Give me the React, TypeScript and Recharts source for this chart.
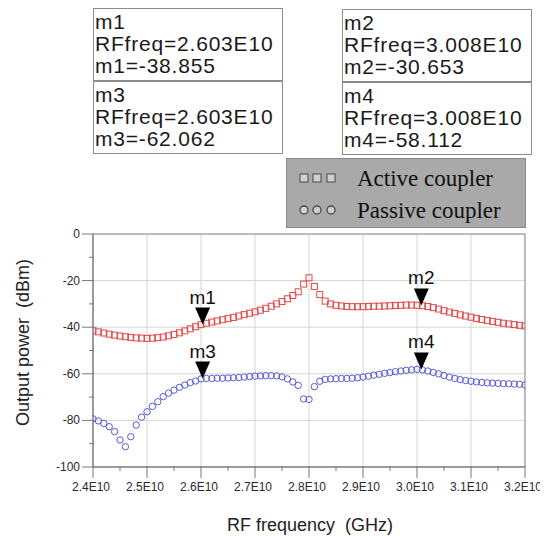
import React from "react"
import {
  ScatterChart,
  Scatter,
  XAxis,
  YAxis,
  CartesianGrid,
  ReferenceArea,
  ReferenceDot,
  Legend,
} from "recharts"

// RF frequency in units of 1E10 Hz
const freq = [
  2.4, 2.41, 2.42, 2.43, 2.44, 2.45, 2.46, 2.47, 2.48, 2.49,
  2.5, 2.51, 2.52, 2.53, 2.54, 2.55, 2.56, 2.57, 2.58, 2.59,
  2.6, 2.61, 2.62, 2.63, 2.64, 2.65, 2.66, 2.67, 2.68, 2.69,
  2.7, 2.71, 2.72, 2.73, 2.74, 2.75, 2.76, 2.77, 2.78, 2.79,
  2.8, 2.81, 2.82, 2.83, 2.84, 2.85, 2.86, 2.87, 2.88, 2.89,
  2.9, 2.91, 2.92, 2.93, 2.94, 2.95, 2.96, 2.97, 2.98, 2.99,
  3.0, 3.01, 3.02, 3.03, 3.04, 3.05, 3.06, 3.07, 3.08, 3.09,
  3.1, 3.11, 3.12, 3.13, 3.14, 3.15, 3.16, 3.17, 3.18, 3.19,
  3.2,
]

// output power, dBm
const activeCoupler = [
  -41.5, -42.0, -42.5, -43.0, -43.4, -43.8, -44.1, -44.4, -44.6, -44.7,
  -44.8, -44.7, -44.5, -44.2, -43.7, -43.1, -42.4, -41.6, -40.7, -39.8,
  -38.9, -38.3, -37.8, -37.3, -36.8, -36.3, -35.8, -35.2, -34.6, -34.0,
  -33.4, -32.7, -31.9, -31.0, -30.0, -29.0, -27.8, -26.4, -24.8, -21.5,
  -18.8, -22.5, -26.0, -28.8, -30.0, -30.6, -30.9, -31.1, -31.2, -31.2,
  -31.2, -31.1, -31.0, -31.0, -30.9, -30.8, -30.7, -30.6, -30.5, -30.5,
  -30.6, -30.8, -31.1, -31.6, -32.2, -32.9, -33.5, -34.1, -34.7, -35.2,
  -35.7, -36.2, -36.7, -37.1, -37.5, -37.9, -38.3, -38.6, -38.9, -39.2,
  -39.5,
]

const passiveCoupler = [
  -79.3, -80.2, -81.3, -82.7, -84.8, -88.4, -91.3, -87.0, -82.0, -78.6,
  -76.3, -74.0, -72.0, -69.8, -68.3, -67.0, -65.8, -64.8, -63.8, -63.1,
  -62.2, -62.0, -62.0, -61.9, -61.9, -61.8, -61.7, -61.6, -61.4, -61.2,
  -61.0, -60.9, -60.8, -60.8, -60.9, -61.3, -62.2, -63.5, -65.0, -70.8,
  -71.0, -65.5, -63.2, -62.4, -62.2, -62.1, -62.0, -62.0, -61.9, -61.7,
  -61.4, -61.0, -60.6, -60.2, -59.8, -59.5, -59.1, -58.8, -58.5, -58.3,
  -58.1, -58.3, -58.8, -59.4, -60.0, -60.7, -61.4, -62.0, -62.5, -62.9,
  -63.2, -63.5, -63.7, -63.9, -64.0, -64.1, -64.2, -64.3, -64.4, -64.5,
  -64.8,
]

const markerNames = ["m1", "m2", "m3", "m4"]
const markerFreq = [2.603, 3.008, 2.603, 3.008]
const markerValue = [-38.855, -30.653, -62.062, -58.112]

const xTicks = [
  2.4, 2.45, 2.5, 2.55, 2.6, 2.65, 2.7, 2.75, 2.8, 2.85, 2.9, 2.95, 3.0, 3.05, 3.1, 3.15, 3.2,
]
const xGrid = [2.5, 2.6, 2.7, 2.8, 2.9, 3.0, 3.1]
const yTicks = [-100, -90, -80, -70, -60, -50, -40, -30, -20, -10, 0]
const yGrid = [-20, -40, -60, -80]

const activeData = freq.map((f, i) => ({ f, p: activeCoupler[i] }))
const passiveData = freq.map((f, i) => ({ f, p: passiveCoupler[i] }))

const SANS = "'Liberation Sans', Arial, sans-serif"
const SERIF = "'Liberation Serif', 'Times New Roman', serif"
const RED = "#e24848"
const BLUE = "#5a5ad8"
const AXIS = "#7a7a7a"
const MAJOR = 11
const MINOR = 4
const MARGIN = 2

function YTick(props: any) {
  const { x, y, payload } = props
  const axisX = x + MAJOR + MARGIN
  const major = payload.value % 20 === 0
  return (
    <g>
      <line x1={axisX - (major ? MAJOR : MINOR)} x2={axisX + 1} y1={y} y2={y} stroke={AXIS} />
      {major && (
        <text x={x} y={y} dy={4} textAnchor="end" fontSize={12} fontFamily={SANS} fill="#2a2a2a">
          {payload.value}
        </text>
      )}
    </g>
  )
}

function XTick(props: any) {
  const { x, y, payload } = props
  const axisY = y - MAJOR - MARGIN
  const major = Math.round(payload.value * 100) % 10 === 0
  return (
    <g>
      <line x1={x} x2={x} y1={axisY - 1} y2={axisY + (major ? MAJOR : MINOR)} stroke={AXIS} />
      {major && (
        <text x={x} y={y} dy={11} dx={-2} textAnchor="middle" fontSize={12} fontFamily={SANS} fill="#2a2a2a">
          {payload.value.toFixed(1) + "E10"}
        </text>
      )}
    </g>
  )
}

function MarkerShape(props: any, name: string) {
  const { cx, cy } = props
  return (
    <g>
      <polygon points={`${cx - 7.5},${cy - 17} ${cx + 7.5},${cy - 17} ${cx},${cy}`} fill="#000" />
      <text x={cx} y={cy - 21} textAnchor="middle" fontSize={19} fontFamily={SANS} fill="#111">
        {name}
      </text>
    </g>
  )
}

function LegendBox(props: any) {
  const { payload } = props
  return (
    <svg width={240} height={70} style={{ display: "block" }}>
      <rect x={0.5} y={0.5} width={239} height={69} fill="#a9a9a9" stroke="#8a8a8a" />
      {(payload || []).map((entry: any, i: number) => {
        const cy = i === 0 ? 20 : 52
        const symbols = [18, 31, 45].map((sx) =>
          entry.type === "square" ? (
            <rect key={sx} x={sx - 4} y={cy - 4} width={8} height={8} fill="#cfcfcf" stroke="#4a4a4a" />
          ) : (
            <circle key={sx} cx={sx} cy={cy} r={4} fill="#cfcfcf" stroke="#4a4a4a" strokeWidth={1.3} />
          )
        )
        return (
          <g key={entry.value}>
            {symbols}
            <text x={71} y={cy + 8} fontSize={23} fontFamily={SERIF} fill="#111">
              {entry.value}
            </text>
          </g>
        )
      })}
    </svg>
  )
}

const boxPos = [
  { left: 85, top: 0 },
  { left: 334, top: 1 },
  { left: 85, top: 73 },
  { left: 334, top: 74 },
]

export default function App() {
  return (
    <div style={{ position: "relative", width: 540, height: 528, fontFamily: SANS }}>
      <ScatterChart width={540} height={528} margin={{ top: 226, right: 23, bottom: 0, left: 0 }}>
        <CartesianGrid stroke="#d6d6d6" verticalValues={xGrid} horizontalValues={yGrid} />
        <XAxis
          type="number"
          dataKey="f"
          domain={[2.4, 3.2]}
          ticks={xTicks}
          interval={0}
          height={69}
          stroke={AXIS}
          tickLine={false}
          tickSize={MAJOR}
          tickMargin={MARGIN}
          tick={<XTick />}
          allowDataOverflow
          label={(p: any) => {
            const vb = p.viewBox
            return (
              <text
                x={vb.x + vb.width / 2 + 1}
                y={vb.y + 64}
                textAnchor="middle"
                fontSize={18}
                fontFamily={SANS}
                fill="#222"
                style={{ whiteSpace: "pre" }}
              >
                {"RF frequency  (GHz)"}
              </text>
            )
          }}
        />
        <YAxis
          type="number"
          dataKey="p"
          domain={[-100, 0]}
          ticks={yTicks}
          interval={0}
          width={85}
          stroke={AXIS}
          tickLine={false}
          tickSize={MAJOR}
          tickMargin={MARGIN}
          tick={<YTick />}
          allowDataOverflow
          label={(p: any) => {
            const vb = p.viewBox
            const x = vb.x + 15
            const y = vb.y + vb.height / 2 - 8
            return (
              <text
                x={x}
                y={y}
                transform={`rotate(-90 ${x} ${y})`}
                textAnchor="middle"
                dominantBaseline="central"
                fontSize={18}
                fontFamily={SANS}
                fill="#222"
                style={{ whiteSpace: "pre" }}
              >
                {"Output power  (dBm)"}
              </text>
            )
          }}
        />
        <ReferenceArea x1={2.4} x2={3.2} y1={-100} y2={0} fill="none" stroke={AXIS} />
        <Legend
          layout="horizontal"
          verticalAlign="middle"
          align="center"
          wrapperStyle={{ left: 278, top: 150, width: 240, height: 70 }}
          content={<LegendBox />}
        />
        <Scatter
          name="Active coupler"
          data={activeData}
          legendType="square"
          isAnimationActive={false}
          shape={(p: any) => (
            <rect x={p.cx - 3} y={p.cy - 3} width={6} height={6} fill="none" stroke={RED} strokeWidth={1} />
          )}
        />
        <Scatter
          name="Passive coupler"
          data={passiveData}
          legendType="circle"
          isAnimationActive={false}
          shape={(p: any) => <circle cx={p.cx} cy={p.cy} r={3.2} fill="none" stroke={BLUE} strokeWidth={1} />}
        />
        {markerNames.map((name, i) => (
          <ReferenceDot
            key={name}
            x={markerFreq[i]}
            y={markerValue[i]}
            r={0}
            shape={(p: any) => MarkerShape(p, name)}
          />
        ))}
      </ScatterChart>
      {markerNames.map((name, i) => (
        <div
          key={name}
          style={{
            position: "absolute",
            left: boxPos[i].left,
            top: boxPos[i].top,
            width: 187,
            height: 69,
            border: "1px solid #8c8c8c",
            background: "#fff",
            fontSize: 21,
            lineHeight: "22px",
            letterSpacing: 0.8,
            color: "#1a1a1a",
            paddingLeft: 1,
            paddingTop: 2,
            boxSizing: "content-box",
            whiteSpace: "nowrap",
          }}
        >
          <div>{name}</div>
          <div>{"RFfreq=" + markerFreq[i].toFixed(3) + "E10"}</div>
          <div>{name + "=" + markerValue[i].toFixed(3)}</div>
        </div>
      ))}
    </div>
  )
}
